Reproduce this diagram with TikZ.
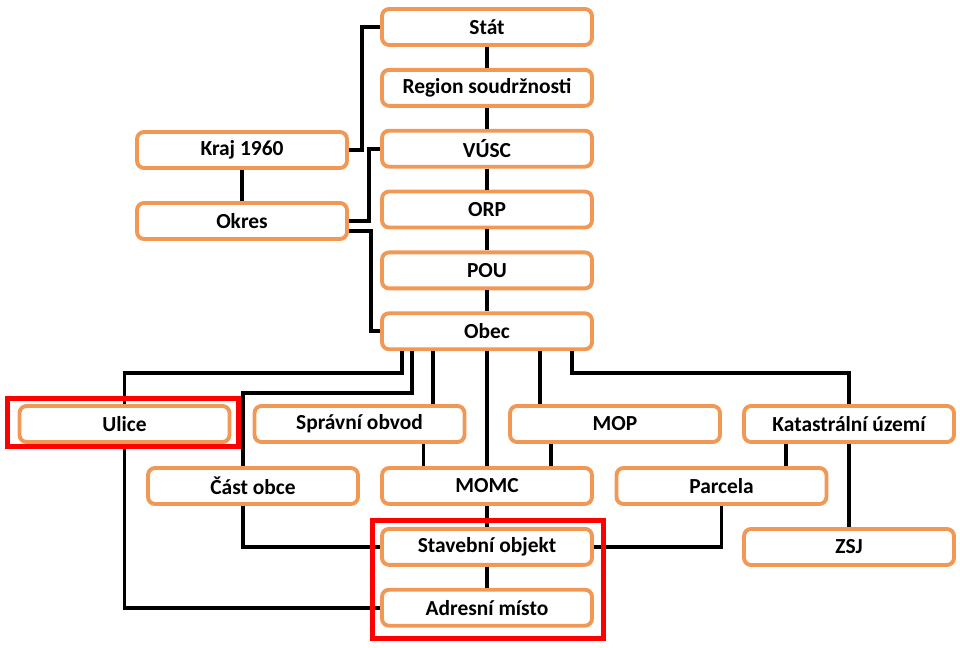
\documentclass[tikz,border=0pt]{standalone}
\usepackage{fontspec}
\setmainfont{Carlito}
\usetikzlibrary{positioning,calc}
\definecolor{boxorange}{RGB}{240,152,84}
\tikzset{%
unit/.style={draw=boxorange,fill=white,line width=2.2pt,rounded corners=4pt,minimum width=4.2cm,minimum height=0.72cm,inner sep=0pt,font=\fontsize{12.2}{14}\selectfont\bfseries},
link/.style={draw,line width=2.1pt},
hilite/.style={draw=red,line width=2.85pt},
}

\begin{document}
\begin{tikzpicture}[x=0.02cm,y=-0.02cm,node distance=0.42cm]
    \useasboundingbox (0,0) rectangle (960,648);

    % state hierarchy
    \node[unit] (stat) at (487,27) {Stát};
    \node[unit] (region) [below=of stat] {Region soudržnosti};
    \node[unit] (vusc) [below=of region] {VÚSC};
    \node[unit] (orp) [below=of vusc] {ORP};
    \node[unit] (pou) [below=of orp] {POU};
    \node[unit] (obec) [below=of pou] {Obec};
    \node[unit] (kraj) at (242,150) {Kraj 1960};
    \node[unit] (okres) at (242,221) {Okres};

    % below the municipality
    \node[unit] (ulice) at (124.5,424) {Ulice};
    \node[unit] (sprava) at (359.5,424) {Správní obvod};
    \node[unit] (mop) at (615,424) {MOP};
    \node[unit] (kat) at (849,424) {Katastrální území};
    \node[unit] (cast) at (253,486) {Část obce};
    \node[unit] (momc) at (487,486) {MOMC};
    \node[unit] (parcela) at (721.5,486) {Parcela};
    \node[unit] (stav) [below=of momc] {Stavební objekt};
    \node[unit] (adr) [below=of stav] {Adresní místo};
    \node[unit] (zsj) at (849,547) {ZSJ};

    \path[link] (stat) edge (region)
                (region) edge (vusc)
                (vusc) edge (orp)
                (orp) edge (pou)
                (pou) edge (obec)
                (kraj) edge (okres)
                (obec) edge (momc)
                (momc) edge (stav)
                (stav) edge (adr)
                (kat) edge (zsj);

    \draw[link] (stat.west) -- ++(-18,0) |- (kraj.east);
    \draw[link] (okres.east) -- ++(20,0) |- (vusc.west);
    \draw[link] ($(okres.east)+(0,10)$) -- ++(22,0) |- (obec.west);

    \draw[link] ($(obec.south)+(-85,0)$) -- ++(0,22) -| (ulice.north);
    \draw[link] ($(obec.south)+(-75,0)$) -- ++(0,42) -| ($(cast.north)+(-10,0)$);
    \draw[link] ($(obec.south)+(-54,0)$) coordinate (s1) -- (s1 |- sprava.north);
    \draw[link] ($(obec.south)+(53,0)$) coordinate (s2) -- (s2 |- mop.north);
    \draw[link] ($(obec.south)+(85,0)$) -- ++(0,22) -| (kat.north);

    \draw[link] ($(sprava.south)+(64,0)$) coordinate (s3) -- (s3 |- momc.north);
    \draw[link] ($(mop.south)+(-64,0)$) coordinate (s4) -- (s4 |- momc.north);
    \draw[link] ($(kat.south)+(-63,0)$) coordinate (s5) -- (s5 |- parcela.north);

    \draw[link] (parcela.south) |- (stav.east);
    \draw[link] ($(cast.south)+(-10,0)$) |- (stav.west);
    \draw[link] (ulice.south) |- (adr.west);

    % highlighted items
    \draw[hilite] ($(ulice.north west)+(-10.5,-5.5)$) rectangle ($(ulice.south east)+(7.5,2.5)$);
    \draw[hilite] ($(stav.north west)+(-7.5,-6.5)$) rectangle ($(adr.south east)+(9.5,10.5)$);
\end{tikzpicture}
\end{document}
